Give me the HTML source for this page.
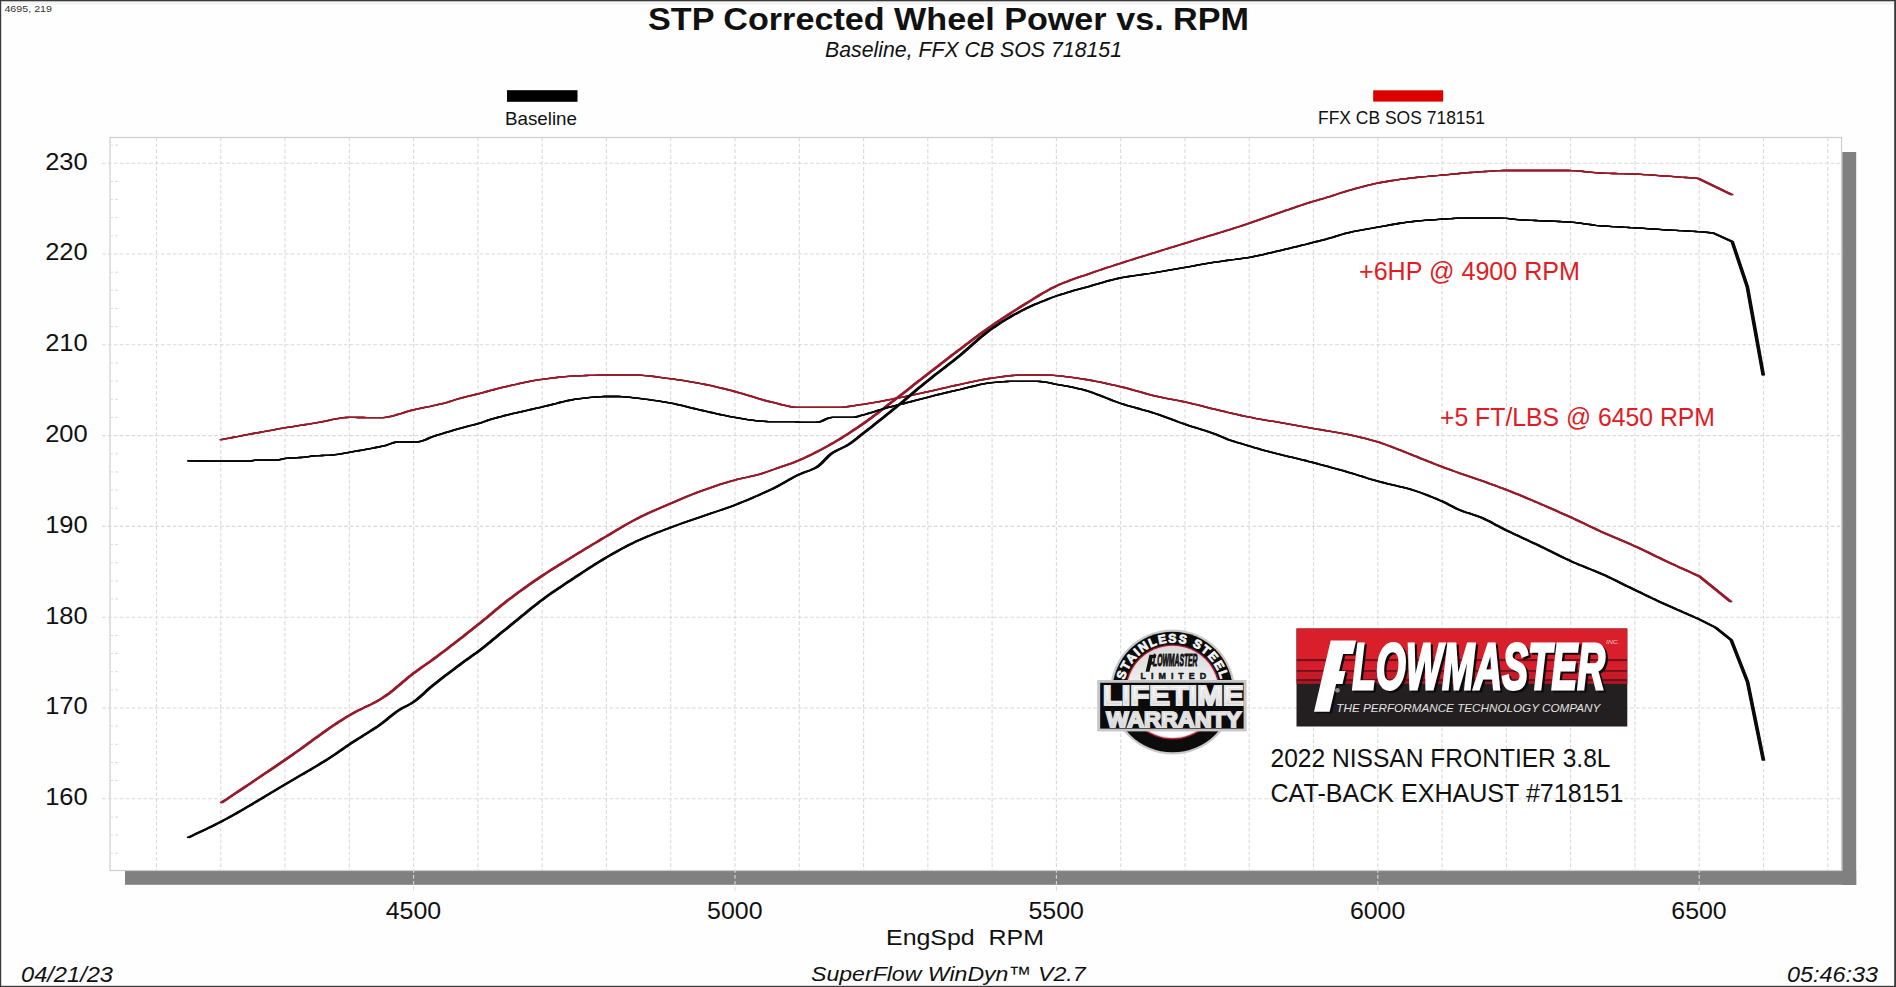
<!DOCTYPE html>
<html><head><meta charset="utf-8"><title>STP Corrected Wheel Power vs. RPM</title>
<style>html,body{margin:0;padding:0;background:#fff;overflow:hidden}svg{display:block}text{font-family:"Liberation Sans",sans-serif}</style></head><body>
<svg width="1896" height="987" viewBox="0 0 1896 987">
<rect x="0" y="0" width="1896" height="987" fill="#fefefe"/>
<rect x="1" y="1.5" width="1893" height="3.5" fill="#f5f5f5"/>
<rect x="0" y="0" width="1896" height="1.3" fill="#3a3a3a"/>
<rect x="0" y="0" width="1.2" height="987" fill="#3a3a3a"/>
<rect x="0" y="985.8" width="1896" height="1.2" fill="#3a3a3a"/>
<rect x="1894.2" y="0" width="1.8" height="987" fill="#3a3a3a"/>
<rect x="1842.3" y="152" width="13.9" height="733" fill="#808080"/>
<rect x="125" y="871" width="1731.2" height="13.8" fill="#808080"/>
<rect x="110.0" y="137.5" width="1731.5" height="733.0" fill="#ffffff" stroke="#cdcdcd" stroke-width="1.2"/>
<path d="M156.5 137.5 V870.5 M220.8 137.5 V870.5 M285.0 137.5 V870.5 M349.3 137.5 V870.5 M413.6 137.5 V893.0 M477.9 137.5 V870.5 M542.2 137.5 V870.5 M606.4 137.5 V870.5 M670.7 137.5 V870.5 M735.0 137.5 V893.0 M799.3 137.5 V870.5 M863.6 137.5 V870.5 M927.8 137.5 V870.5 M992.1 137.5 V870.5 M1056.4 137.5 V893.0 M1120.7 137.5 V870.5 M1185.0 137.5 V870.5 M1249.2 137.5 V870.5 M1313.5 137.5 V870.5 M1377.8 137.5 V893.0 M1442.1 137.5 V870.5 M1506.4 137.5 V870.5 M1570.6 137.5 V870.5 M1634.9 137.5 V870.5 M1699.2 137.5 V893.0 M1763.5 137.5 V870.5 M1827.8 137.5 V870.5 M102.0 798.8 H1841.5 M102.0 708.0 H1841.5 M102.0 617.2 H1841.5 M102.0 526.4 H1841.5 M102.0 435.6 H1841.5 M102.0 344.8 H1841.5 M102.0 254.0 H1841.5 M102.0 163.2 H1841.5" fill="none" stroke="#dadada" stroke-width="1.1" stroke-dasharray="3.7 2.2"/>
<path d="M110.0 853.3 H118.0 M110.0 835.1 H118.0 M110.0 817.0 H118.0 M110.0 780.6 H118.0 M110.0 762.5 H118.0 M110.0 744.3 H118.0 M110.0 726.2 H118.0 M110.0 689.8 H118.0 M110.0 671.7 H118.0 M110.0 653.5 H118.0 M110.0 635.4 H118.0 M110.0 599.0 H118.0 M110.0 580.9 H118.0 M110.0 562.7 H118.0 M110.0 544.6 H118.0 M110.0 508.2 H118.0 M110.0 490.1 H118.0 M110.0 471.9 H118.0 M110.0 453.8 H118.0 M110.0 417.4 H118.0 M110.0 399.3 H118.0 M110.0 381.1 H118.0 M110.0 363.0 H118.0 M110.0 326.6 H118.0 M110.0 308.5 H118.0 M110.0 290.3 H118.0 M110.0 272.2 H118.0 M110.0 235.8 H118.0 M110.0 217.7 H118.0 M110.0 199.5 H118.0 M110.0 181.4 H118.0 M110.0 145.0 H118.0" fill="none" stroke="#dcdcdc" stroke-width="1" stroke-dasharray="3 2"/>
<g fill="none" stroke="#971c2b" stroke-width="1.3" stroke-linejoin="round" stroke-linecap="butt">
<path id="rt" d="M220.6 439.8 L223.6 439.2 L226.5 438.7 L229.5 438.1 L232.5 437.5 L235.4 436.9 L238.4 436.4 L241.4 435.8 L244.4 435.2 L247.3 434.7 L250.3 434.1 L253.3 433.5 L256.2 433.0 L259.2 432.5 L262.1 431.9 L265.1 431.4 L268.1 430.8 L271.0 430.3 L274.0 429.8 L276.9 429.2 L279.9 428.7 L282.8 428.2 L285.8 427.7 L288.7 427.2 L291.5 426.8 L294.4 426.3 L297.2 425.8 L300.1 425.4 L302.9 425.0 L305.8 424.5 L308.6 424.1 L311.5 423.6 L314.3 423.2 L317.2 422.7 L320.1 422.2 L323.0 421.6 L326.0 421.0 L328.9 420.3 L331.8 419.7 L334.7 419.1 L337.6 418.6 L340.5 418.1 L343.5 417.7 L346.4 417.5 L349.3 417.4 L352.2 417.4 L355.0 417.4 L357.9 417.5 L360.8 417.5 L363.6 417.5 L366.5 417.6 L369.3 417.6 L372.2 417.6 L375.1 417.7 L377.9 417.7 L380.8 417.7 L383.8 417.6 L386.8 417.2 L389.8 416.7 L392.8 416.0 L395.8 415.1 L398.7 414.2 L401.7 413.3 L404.7 412.3 L407.7 411.4 L410.7 410.5 L413.7 409.8 L416.5 409.2 L419.3 408.6 L422.0 408.0 L424.8 407.4 L427.6 406.8 L430.4 406.3 L433.2 405.7 L436.0 405.1 L438.7 404.4 L441.5 403.8 L444.3 403.1 L447.2 402.3 L450.2 401.4 L453.1 400.5 L456.1 399.5 L459.1 398.6 L462.0 397.8 L464.7 397.1 L467.4 396.4 L470.1 395.8 L472.7 395.1 L475.4 394.5 L478.1 393.8 L481.0 393.1 L483.9 392.3 L486.9 391.5 L489.8 390.7 L492.7 390.0 L495.6 389.2 L498.5 388.4 L501.4 387.7 L504.4 387.0 L507.3 386.3 L510.2 385.6 L513.1 384.9 L516.1 384.3 L519.0 383.6 L521.9 383.0 L524.8 382.4 L527.8 381.8 L530.7 381.2 L533.6 380.7 L536.5 380.2 L539.5 379.7 L542.4 379.3 L545.3 378.9 L548.2 378.6 L551.0 378.2 L553.9 377.9 L556.8 377.5 L559.7 377.2 L562.6 376.9 L565.5 376.7 L568.4 376.4 L571.2 376.2 L574.1 376.0 L577.0 375.9 L580.0 375.8 L583.0 375.7 L585.9 375.5 L588.9 375.4 L591.9 375.3 L594.9 375.3 L597.9 375.2 L600.8 375.1 L603.8 375.1 L606.8 375.1 L609.5 375.1 L612.2 375.1 L614.9 375.1 L617.6 375.1 L620.3 375.1 L623.1 375.1 L625.8 375.1 L628.5 375.1 L631.2 375.1 L633.9 375.1 L636.8 375.1 L639.6 375.2 L642.5 375.4 L645.3 375.6 L648.2 375.9 L651.0 376.2 L653.9 376.5 L656.7 376.9 L659.6 377.3 L662.4 377.7 L665.3 378.1 L668.1 378.4 L671.0 378.8 L673.9 379.2 L676.7 379.6 L679.6 380.0 L682.5 380.4 L685.3 380.9 L688.2 381.3 L691.0 381.8 L693.9 382.3 L696.8 382.8 L699.6 383.4 L702.5 383.9 L705.4 384.5 L708.4 385.1 L711.3 385.7 L714.2 386.4 L717.1 387.1 L720.1 387.8 L723.0 388.5 L725.9 389.2 L728.8 390.0 L731.8 390.7 L734.7 391.5 L737.6 392.3 L740.4 393.1 L743.3 393.9 L746.2 394.8 L749.0 395.7 L751.9 396.5 L754.8 397.4 L757.7 398.3 L760.5 399.2 L763.4 400.0 L766.3 400.8 L769.1 401.5 L772.0 402.2 L775.0 402.9 L778.0 403.7 L780.9 404.5 L783.9 405.2 L786.9 405.9 L789.9 406.5 L792.8 407.0 L795.8 407.3 L798.8 407.4 L801.7 407.4 L804.7 407.4 L807.6 407.4 L810.5 407.4 L813.5 407.4 L816.4 407.4 L819.3 407.4 L822.2 407.4 L825.2 407.4 L828.1 407.4 L831.0 407.4 L834.0 407.4 L836.9 407.4 L839.8 407.3 L842.8 407.2 L845.7 406.9 L848.6 406.5 L851.6 406.1 L854.5 405.7 L857.4 405.2 L860.4 404.7 L863.3 404.3 L866.2 403.9 L869.1 403.4 L872.1 402.9 L875.0 402.4 L877.9 401.9 L880.8 401.3 L883.7 400.8 L886.6 400.2 L889.6 399.6 L892.5 399.1 L895.4 398.5 L898.3 397.9 L901.2 397.3 L904.2 396.8 L907.1 396.2 L910.0 395.6 L912.9 394.9 L915.8 394.3 L918.7 393.7 L921.7 393.1 L924.6 392.4 L927.5 391.8 L930.3 391.2 L933.0 390.6 L935.8 389.9 L938.5 389.3 L941.3 388.7 L944.0 388.0 L946.8 387.4 L949.6 386.7 L952.3 386.1 L955.1 385.5 L957.8 384.9 L960.6 384.3 L963.5 383.7 L966.3 383.1 L969.2 382.4 L972.1 381.8 L974.9 381.2 L977.8 380.6 L980.6 380.0 L983.5 379.5 L986.4 379.0 L989.2 378.5 L992.1 378.1 L995.0 377.7 L997.8 377.3 L1000.7 376.9 L1003.6 376.5 L1006.5 376.1 L1009.3 375.8 L1012.2 375.5 L1015.1 375.3 L1017.9 375.1 L1020.8 375.1 L1023.5 375.1 L1026.3 375.1 L1029.0 375.1 L1031.7 375.1 L1034.5 375.1 L1037.2 375.1 L1040.0 375.1 L1042.7 375.1 L1045.4 375.1 L1048.2 375.1 L1050.9 375.1 L1053.7 375.3 L1056.5 375.6 L1059.4 375.9 L1062.4 376.2 L1065.3 376.6 L1068.3 376.9 L1071.2 377.3 L1074.2 377.7 L1077.1 378.1 L1080.1 378.6 L1083.0 379.0 L1085.9 379.5 L1088.8 380.0 L1091.8 380.5 L1094.7 381.1 L1097.6 381.6 L1100.5 382.2 L1103.5 382.8 L1106.4 383.5 L1109.3 384.1 L1112.2 384.8 L1115.2 385.4 L1118.1 386.1 L1121.0 386.8 L1123.9 387.5 L1126.7 388.2 L1129.6 389.0 L1132.4 389.8 L1135.3 390.6 L1138.2 391.4 L1141.0 392.2 L1143.9 393.0 L1146.7 393.8 L1149.6 394.6 L1152.4 395.3 L1155.3 396.0 L1158.0 396.6 L1160.8 397.2 L1163.5 397.8 L1166.2 398.3 L1169.0 398.8 L1171.7 399.3 L1174.5 399.9 L1177.2 400.4 L1179.9 400.9 L1182.7 401.5 L1185.4 402.1 L1188.2 402.7 L1191.0 403.4 L1193.9 404.1 L1196.7 404.7 L1199.5 405.4 L1202.3 406.1 L1205.2 406.8 L1208.0 407.6 L1210.8 408.3 L1213.6 409.0 L1216.5 409.7 L1219.3 410.3 L1222.1 411.0 L1224.9 411.6 L1227.6 412.3 L1230.4 412.9 L1233.1 413.6 L1235.9 414.2 L1238.7 414.8 L1241.4 415.5 L1244.2 416.1 L1246.9 416.6 L1249.7 417.2 L1252.5 417.7 L1255.3 418.3 L1258.2 418.8 L1261.0 419.3 L1263.8 419.8 L1266.6 420.3 L1269.4 420.8 L1272.2 421.2 L1275.1 421.7 L1277.9 422.2 L1280.7 422.7 L1283.5 423.2 L1286.3 423.7 L1289.0 424.2 L1291.8 424.7 L1294.6 425.2 L1297.4 425.7 L1300.2 426.2 L1303.0 426.6 L1305.8 427.1 L1308.5 427.6 L1311.3 428.1 L1314.1 428.6 L1316.9 429.1 L1319.7 429.5 L1322.5 430.0 L1325.3 430.5 L1328.1 430.9 L1330.8 431.4 L1333.6 431.8 L1336.4 432.3 L1339.2 432.8 L1342.0 433.3 L1344.8 433.8 L1347.6 434.4 L1350.3 435.0 L1353.1 435.6 L1355.8 436.2 L1358.5 436.8 L1361.3 437.5 L1364.0 438.1 L1366.8 438.8 L1369.5 439.6 L1372.2 440.3 L1375.0 441.1 L1377.7 441.9 L1380.2 442.7 L1382.8 443.6 L1385.3 444.5 L1387.9 445.5 L1390.5 446.4 L1393.0 447.4 L1395.9 448.5 L1398.7 449.6 L1401.6 450.7 L1404.5 451.8 L1407.4 453.0 L1410.2 454.1 L1413.1 455.3 L1416.0 456.4 L1418.8 457.6 L1421.7 458.8 L1424.6 459.9 L1427.4 461.1 L1430.3 462.2 L1433.2 463.4 L1436.1 464.5 L1438.9 465.6 L1441.8 466.7 L1444.7 467.8 L1447.7 468.9 L1450.6 469.9 L1453.5 471.0 L1456.5 472.0 L1459.4 473.1 L1462.4 474.1 L1465.3 475.1 L1468.2 476.1 L1471.2 477.1 L1474.1 478.1 L1477.0 479.2 L1480.0 480.2 L1482.9 481.2 L1485.8 482.2 L1488.8 483.3 L1491.7 484.3 L1494.7 485.4 L1497.6 486.5 L1500.5 487.6 L1503.5 488.7 L1506.4 489.8 L1509.3 490.9 L1512.2 492.1 L1515.2 493.3 L1518.1 494.4 L1521.0 495.6 L1523.9 496.8 L1526.8 498.1 L1529.7 499.3 L1532.7 500.5 L1535.6 501.8 L1538.5 503.0 L1541.4 504.3 L1544.3 505.5 L1547.3 506.8 L1550.2 508.1 L1553.1 509.4 L1556.0 510.7 L1558.9 512.0 L1561.8 513.3 L1564.8 514.6 L1567.7 515.9 L1570.6 517.2 L1573.5 518.5 L1576.4 519.9 L1579.4 521.3 L1582.3 522.7 L1585.2 524.0 L1588.1 525.5 L1591.0 526.9 L1593.9 528.2 L1596.9 529.6 L1599.8 531.0 L1602.7 532.3 L1605.7 533.6 L1608.6 534.9 L1611.6 536.2 L1614.5 537.4 L1617.5 538.7 L1620.4 539.9 L1623.4 541.2 L1626.3 542.4 L1629.3 543.7 L1632.2 545.0 L1635.2 546.3 L1638.2 547.7 L1641.2 549.1 L1644.1 550.5 L1647.1 551.9 L1650.1 553.3 L1653.1 554.8 L1656.0 556.3 L1659.0 557.7 L1662.0 559.2 L1665.0 560.6 L1667.9 562.0 L1670.9 563.4 L1673.8 564.7 L1676.6 566.0 L1679.5 567.4 L1682.4 568.7 L1685.2 569.9 L1688.1 571.2 L1691.0 572.5 L1693.9 573.8 L1696.7 575.1 L1699.6 576.4 L1731.1 602.1"/>
<use href="#rt" x="-1.2"/>
<use href="#rt" x="-0.6"/>
<use href="#rt" x="0.6"/>
<use href="#rt" x="1.2"/>
</g>
<g fill="none" stroke="#971c2b" stroke-width="1.3" stroke-linejoin="round" stroke-linecap="butt">
<path id="rp" d="M221.2 802.9 L224.1 800.9 L227.1 799.0 L230.0 797.0 L232.9 795.0 L235.9 793.0 L238.8 791.1 L241.8 789.1 L244.7 787.1 L247.6 785.2 L250.6 783.2 L253.5 781.2 L256.4 779.3 L259.4 777.3 L262.3 775.3 L265.2 773.3 L268.2 771.4 L271.1 769.4 L274.1 767.4 L277.0 765.4 L279.9 763.4 L282.9 761.4 L285.8 759.4 L288.7 757.4 L291.6 755.4 L294.5 753.3 L297.4 751.3 L300.3 749.2 L303.2 747.1 L306.1 745.0 L309.0 742.9 L311.9 740.8 L314.8 738.6 L317.7 736.6 L320.6 734.5 L323.5 732.4 L326.4 730.4 L329.3 728.3 L332.2 726.3 L335.1 724.4 L338.0 722.4 L340.9 720.6 L343.8 718.7 L346.7 716.9 L349.6 715.2 L352.4 713.6 L355.1 712.1 L357.9 710.7 L360.6 709.4 L363.4 708.0 L366.1 706.7 L368.9 705.3 L371.7 704.0 L374.4 702.6 L377.2 701.1 L379.9 699.5 L382.7 697.8 L385.5 695.9 L388.4 693.9 L391.2 691.7 L394.0 689.4 L396.8 687.1 L399.7 684.7 L402.5 682.3 L405.3 679.9 L408.1 677.6 L411.0 675.3 L413.8 673.1 L416.7 671.0 L419.6 668.9 L422.5 666.8 L425.4 664.8 L428.3 662.7 L431.2 660.7 L434.1 658.6 L437.0 656.5 L439.9 654.3 L442.9 652.1 L445.8 649.9 L448.8 647.6 L451.7 645.3 L454.7 643.1 L457.6 640.8 L460.5 638.5 L463.5 636.2 L466.4 633.8 L469.4 631.5 L472.3 629.2 L475.3 626.8 L478.2 624.5 L481.1 622.2 L484.0 619.8 L487.0 617.4 L489.9 614.9 L492.8 612.5 L495.7 610.1 L498.6 607.7 L501.5 605.3 L504.5 602.9 L507.4 600.6 L510.3 598.4 L513.3 596.2 L516.2 594.0 L519.2 591.8 L522.1 589.7 L525.1 587.6 L528.0 585.5 L531.0 583.4 L533.9 581.4 L536.9 579.4 L539.8 577.4 L542.8 575.4 L545.6 573.5 L548.4 571.7 L551.2 569.9 L554.0 568.1 L556.8 566.4 L559.6 564.6 L562.5 562.9 L565.3 561.2 L568.1 559.5 L570.9 557.7 L573.7 556.0 L576.5 554.3 L579.2 552.6 L582.0 551.0 L584.7 549.3 L587.4 547.6 L590.2 546.0 L592.9 544.3 L595.7 542.7 L598.4 541.1 L601.1 539.4 L603.9 537.8 L606.6 536.2 L609.3 534.6 L612.1 532.9 L614.8 531.3 L617.5 529.6 L620.3 528.0 L623.0 526.4 L625.8 524.8 L628.5 523.2 L631.2 521.7 L634.0 520.2 L636.7 518.8 L639.6 517.3 L642.5 515.9 L645.4 514.6 L648.3 513.2 L651.2 511.9 L654.0 510.6 L656.9 509.3 L659.8 508.1 L662.7 506.8 L665.6 505.6 L668.5 504.3 L671.4 503.1 L674.4 501.8 L677.3 500.6 L680.2 499.3 L683.2 498.1 L686.1 496.9 L689.1 495.7 L692.0 494.5 L695.0 493.3 L697.9 492.2 L700.9 491.1 L703.7 490.1 L706.6 489.1 L709.4 488.1 L712.3 487.1 L715.1 486.1 L718.0 485.2 L720.8 484.2 L723.6 483.3 L726.5 482.5 L729.3 481.6 L732.2 480.8 L735.0 480.0 L737.9 479.2 L740.8 478.6 L743.7 477.9 L746.6 477.3 L749.5 476.6 L752.4 476.0 L755.3 475.3 L758.2 474.6 L761.1 473.8 L763.8 472.9 L766.5 472.0 L769.3 471.0 L772.0 470.0 L775.0 469.0 L778.0 467.9 L780.9 466.9 L783.9 465.9 L786.9 464.9 L789.9 463.8 L792.8 462.8 L795.8 461.6 L798.8 460.4 L801.6 459.2 L804.3 458.0 L807.1 456.7 L809.8 455.4 L812.6 454.0 L815.3 452.6 L818.1 451.2 L820.9 449.7 L823.6 448.2 L826.4 446.7 L829.1 445.2 L831.9 443.6 L834.8 442.0 L837.6 440.3 L840.5 438.6 L843.3 436.8 L846.2 435.0 L849.0 433.2 L851.9 431.3 L854.7 429.4 L857.6 427.5 L860.4 425.6 L863.3 423.6 L866.2 421.6 L869.1 419.4 L872.1 417.3 L875.0 415.1 L877.9 412.9 L880.8 410.6 L883.7 408.4 L886.6 406.1 L889.6 403.8 L892.5 401.6 L895.4 399.3 L898.3 397.0 L901.2 394.8 L904.2 392.5 L907.1 390.2 L910.0 387.9 L912.9 385.6 L915.8 383.3 L918.7 381.0 L921.7 378.8 L924.6 376.5 L927.5 374.2 L930.2 372.1 L933.0 369.9 L935.8 367.8 L938.5 365.7 L941.2 363.5 L944.0 361.4 L946.8 359.3 L949.5 357.2 L952.2 355.1 L955.0 353.0 L957.9 350.8 L960.7 348.7 L963.6 346.5 L966.4 344.3 L969.3 342.2 L972.1 340.0 L975.0 337.9 L977.8 335.8 L980.7 333.6 L983.5 331.6 L986.4 329.5 L989.2 327.5 L992.1 325.5 L994.9 323.5 L997.8 321.6 L1000.6 319.7 L1003.5 317.8 L1006.3 316.0 L1009.2 314.1 L1012.0 312.3 L1014.8 310.5 L1017.7 308.7 L1020.5 306.9 L1023.4 305.1 L1026.2 303.4 L1028.9 301.7 L1031.7 300.0 L1034.4 298.3 L1037.1 296.6 L1039.9 294.9 L1042.6 293.3 L1045.4 291.7 L1048.1 290.2 L1050.8 288.7 L1053.6 287.3 L1056.3 286.0 L1059.1 284.7 L1062.0 283.5 L1064.8 282.4 L1067.7 281.3 L1070.5 280.2 L1073.3 279.2 L1076.2 278.2 L1079.0 277.2 L1081.9 276.2 L1084.7 275.3 L1087.6 274.3 L1090.4 273.3 L1093.1 272.3 L1095.9 271.4 L1098.6 270.5 L1101.3 269.6 L1104.1 268.6 L1106.8 267.7 L1109.6 266.8 L1112.3 266.0 L1115.0 265.1 L1117.8 264.2 L1120.5 263.3 L1123.4 262.4 L1126.4 261.4 L1129.3 260.5 L1132.3 259.6 L1135.2 258.6 L1138.1 257.7 L1141.1 256.8 L1144.0 255.9 L1147.0 255.0 L1149.9 254.1 L1152.8 253.2 L1155.8 252.3 L1158.7 251.3 L1161.7 250.4 L1164.6 249.5 L1167.6 248.6 L1170.5 247.7 L1173.4 246.8 L1176.4 245.9 L1179.3 245.0 L1182.3 244.1 L1185.2 243.2 L1188.1 242.3 L1191.1 241.4 L1194.0 240.5 L1196.9 239.6 L1199.8 238.7 L1202.8 237.8 L1205.7 236.9 L1208.6 236.0 L1211.5 235.2 L1214.5 234.3 L1217.4 233.4 L1220.3 232.5 L1223.3 231.6 L1226.2 230.7 L1229.1 229.8 L1232.0 228.9 L1235.0 227.9 L1237.9 227.0 L1240.8 226.1 L1243.7 225.1 L1246.7 224.2 L1249.6 223.2 L1252.5 222.2 L1255.3 221.2 L1258.2 220.2 L1261.1 219.2 L1263.9 218.2 L1266.8 217.2 L1269.6 216.1 L1272.5 215.1 L1275.4 214.1 L1278.2 213.1 L1281.1 212.1 L1283.9 211.2 L1286.6 210.2 L1289.4 209.3 L1292.1 208.3 L1294.9 207.4 L1297.7 206.4 L1300.4 205.5 L1303.2 204.6 L1305.9 203.7 L1308.7 202.8 L1311.4 201.9 L1314.2 201.1 L1316.9 200.3 L1319.6 199.5 L1322.3 198.8 L1325.0 198.0 L1327.8 197.1 L1330.6 196.3 L1333.4 195.4 L1336.2 194.5 L1338.9 193.5 L1341.7 192.6 L1344.5 191.8 L1347.3 190.9 L1350.1 190.1 L1352.9 189.3 L1355.6 188.5 L1358.4 187.8 L1361.2 187.0 L1363.9 186.3 L1366.7 185.6 L1369.5 184.9 L1372.3 184.3 L1375.0 183.7 L1377.8 183.1 L1380.8 182.5 L1383.7 182.0 L1386.7 181.5 L1389.6 181.0 L1392.6 180.5 L1395.5 180.1 L1398.5 179.6 L1401.4 179.2 L1404.4 178.8 L1407.3 178.5 L1410.3 178.1 L1413.2 177.8 L1416.0 177.5 L1418.9 177.2 L1421.8 176.9 L1424.6 176.6 L1427.5 176.4 L1430.3 176.1 L1433.2 175.9 L1436.1 175.6 L1438.9 175.4 L1441.8 175.1 L1444.7 174.8 L1447.6 174.6 L1450.5 174.3 L1453.4 174.0 L1456.3 173.8 L1459.2 173.5 L1462.0 173.2 L1464.9 173.0 L1467.8 172.7 L1470.7 172.5 L1473.6 172.3 L1476.5 172.1 L1479.5 171.9 L1482.4 171.7 L1485.4 171.5 L1488.4 171.3 L1491.3 171.1 L1494.3 170.9 L1497.3 170.7 L1500.3 170.6 L1503.2 170.5 L1506.2 170.5 L1509.2 170.5 L1512.2 170.5 L1515.1 170.5 L1518.1 170.5 L1521.1 170.5 L1524.1 170.5 L1527.1 170.5 L1530.0 170.5 L1533.0 170.5 L1536.0 170.5 L1539.0 170.5 L1542.0 170.5 L1545.0 170.5 L1547.9 170.5 L1550.9 170.5 L1553.9 170.5 L1556.9 170.5 L1559.9 170.5 L1562.8 170.5 L1565.8 170.5 L1568.8 170.5 L1571.7 170.6 L1574.6 170.7 L1577.6 170.9 L1580.5 171.2 L1583.4 171.5 L1586.3 171.8 L1589.2 172.1 L1592.1 172.4 L1595.1 172.7 L1598.0 172.9 L1600.9 173.1 L1603.7 173.2 L1606.6 173.3 L1609.4 173.4 L1612.3 173.5 L1615.1 173.5 L1618.0 173.6 L1620.8 173.7 L1623.6 173.7 L1626.5 173.8 L1629.3 173.9 L1632.2 174.0 L1635.0 174.1 L1638.0 174.2 L1641.0 174.4 L1644.0 174.6 L1647.0 174.7 L1650.0 174.9 L1653.0 175.1 L1656.0 175.3 L1659.0 175.6 L1662.0 175.8 L1665.0 176.0 L1668.0 176.2 L1671.0 176.4 L1674.0 176.6 L1677.0 176.8 L1680.0 177.1 L1683.0 177.3 L1686.0 177.5 L1689.0 177.7 L1692.0 178.0 L1695.0 178.2 L1698.0 178.4 L1732.2 194.8"/>
<use href="#rp" x="-1.2"/>
<use href="#rp" x="-0.6"/>
<use href="#rp" x="0.6"/>
<use href="#rp" x="1.2"/>
</g>
<g fill="none" stroke="#0a0a0a" stroke-width="1.3" stroke-linejoin="round" stroke-linecap="butt">
<path id="bt" d="M188.1 460.8 L190.9 460.8 L193.7 460.9 L196.5 460.9 L199.3 461.0 L202.1 461.0 L204.8 461.0 L207.6 461.1 L210.4 461.1 L213.2 461.2 L216.0 461.2 L218.8 461.2 L221.6 461.2 L224.5 461.2 L227.3 461.2 L230.2 461.2 L233.1 461.2 L235.9 461.2 L238.8 461.2 L241.7 461.2 L244.6 461.2 L247.4 461.2 L250.3 461.2 L252.0 460.8 L253.7 460.3 L256.6 460.2 L259.6 460.2 L262.5 460.2 L265.4 460.1 L268.3 460.1 L271.2 460.1 L274.2 460.1 L277.1 460.0 L280.0 459.6 L282.9 458.8 L285.8 458.3 L288.7 458.1 L291.7 457.9 L294.6 457.8 L297.6 457.7 L300.5 457.5 L303.3 457.3 L306.1 456.9 L308.9 456.6 L311.6 456.2 L314.4 455.9 L317.2 455.7 L319.7 455.6 L322.2 455.5 L324.8 455.4 L327.3 455.3 L329.8 455.2 L332.3 455.0 L335.1 454.7 L338.0 454.3 L340.8 453.9 L343.6 453.3 L346.5 452.8 L349.3 452.3 L351.9 451.9 L354.5 451.4 L357.1 451.0 L359.6 450.5 L362.2 450.1 L364.8 449.6 L367.4 449.1 L370.2 448.6 L373.0 448.1 L375.8 447.5 L378.5 447.0 L381.3 446.4 L384.1 445.8 L386.9 445.0 L389.8 444.0 L392.6 443.0 L395.5 442.2 L398.3 441.9 L401.2 441.9 L404.2 442.0 L407.1 442.0 L410.0 442.0 L413.0 442.1 L415.9 442.1 L418.5 441.9 L421.2 441.2 L423.8 440.3 L426.4 439.3 L429.0 438.1 L431.7 437.0 L434.3 436.1 L437.1 435.2 L439.8 434.4 L442.6 433.5 L445.4 432.7 L448.1 431.8 L450.9 431.0 L453.7 430.2 L456.5 429.4 L459.2 428.6 L462.0 427.8 L464.7 427.1 L467.4 426.4 L470.1 425.7 L472.7 425.1 L475.4 424.3 L478.1 423.6 L480.7 422.8 L483.2 422.0 L485.8 421.1 L488.3 420.2 L490.8 419.4 L493.4 418.6 L496.3 417.8 L499.2 417.0 L502.0 416.3 L504.9 415.5 L507.8 414.8 L510.7 414.1 L513.6 413.4 L516.5 412.8 L519.3 412.1 L522.2 411.5 L525.1 410.8 L528.0 410.2 L530.9 409.5 L533.8 408.9 L536.6 408.2 L539.5 407.6 L542.4 406.9 L545.3 406.2 L548.2 405.5 L551.0 404.8 L553.9 404.0 L556.8 403.3 L559.7 402.5 L562.6 401.8 L565.5 401.2 L568.4 400.5 L571.2 400.0 L574.1 399.4 L577.0 399.0 L579.8 398.6 L582.6 398.3 L585.4 398.0 L588.2 397.7 L591.0 397.4 L593.8 397.2 L596.4 397.0 L599.0 396.8 L601.6 396.7 L604.2 396.5 L606.8 396.5 L609.2 396.5 L611.6 396.5 L614.1 396.5 L616.5 396.5 L618.9 396.5 L621.7 396.6 L624.5 396.8 L627.2 397.0 L630.0 397.3 L632.8 397.7 L635.6 398.0 L638.6 398.3 L641.5 398.7 L644.5 399.1 L647.4 399.4 L650.4 399.9 L653.3 400.3 L656.2 400.7 L659.2 401.2 L662.1 401.7 L665.1 402.2 L668.0 402.7 L671.0 403.2 L673.9 403.7 L676.7 404.3 L679.6 405.0 L682.5 405.6 L685.3 406.3 L688.2 407.0 L691.0 407.8 L693.9 408.5 L696.8 409.2 L699.6 409.8 L702.5 410.5 L705.4 411.2 L708.4 411.8 L711.3 412.5 L714.2 413.2 L717.1 413.8 L720.1 414.5 L723.0 415.1 L725.9 415.7 L728.8 416.3 L731.8 416.9 L734.7 417.4 L737.6 417.9 L740.5 418.4 L743.5 418.9 L746.4 419.4 L749.3 419.8 L752.2 420.2 L755.2 420.6 L758.1 420.9 L761.0 421.1 L764.0 421.3 L767.0 421.5 L770.0 421.6 L773.0 421.7 L775.8 421.7 L778.5 421.7 L781.3 421.7 L784.0 421.6 L786.8 421.6 L789.6 421.6 L792.3 421.6 L795.1 421.6 L797.6 422.0 L800.1 422.4 L802.9 422.4 L805.7 422.4 L808.5 422.4 L811.2 422.4 L814.0 422.4 L816.8 422.4 L819.3 422.0 L821.8 421.1 L824.3 419.9 L826.9 418.7 L829.4 417.8 L831.9 417.4 L834.8 417.4 L837.6 417.4 L840.5 417.4 L843.3 417.4 L846.2 417.4 L849.0 417.4 L851.9 417.4 L854.8 417.1 L857.6 416.5 L860.4 415.7 L863.3 414.9 L866.3 414.1 L869.2 413.2 L872.2 412.3 L875.2 411.4 L878.2 410.4 L881.1 409.5 L884.1 408.6 L887.1 407.7 L889.9 407.0 L892.7 406.3 L895.5 405.6 L898.2 404.9 L901.0 404.2 L903.8 403.5 L906.8 402.7 L909.7 402.0 L912.7 401.2 L915.6 400.4 L918.6 399.6 L921.6 398.8 L924.5 398.1 L927.5 397.3 L930.3 396.6 L933.0 395.9 L935.8 395.2 L938.5 394.5 L941.3 393.9 L944.0 393.2 L946.8 392.5 L949.6 391.9 L952.3 391.2 L955.1 390.6 L957.8 389.9 L960.6 389.3 L963.5 388.6 L966.3 387.9 L969.2 387.2 L972.1 386.5 L974.9 385.8 L977.8 385.1 L980.6 384.4 L983.5 383.8 L986.4 383.3 L989.2 382.9 L992.1 382.6 L995.0 382.3 L997.9 382.1 L1000.8 381.9 L1003.8 381.7 L1006.7 381.5 L1009.6 381.4 L1012.5 381.4 L1015.3 381.4 L1018.1 381.4 L1020.9 381.4 L1023.7 381.4 L1026.4 381.4 L1029.2 381.4 L1032.0 381.4 L1034.8 381.4 L1037.6 381.4 L1040.3 381.5 L1043.0 381.8 L1045.7 382.2 L1048.4 382.7 L1051.1 383.2 L1053.8 383.8 L1056.5 384.3 L1059.4 384.8 L1062.4 385.3 L1065.3 385.9 L1068.3 386.4 L1071.2 387.0 L1074.2 387.6 L1077.1 388.3 L1080.1 389.0 L1083.0 389.7 L1085.9 390.5 L1088.8 391.4 L1091.8 392.4 L1094.7 393.5 L1097.6 394.6 L1100.5 395.7 L1103.5 396.9 L1106.4 398.0 L1109.3 399.2 L1112.2 400.4 L1115.2 401.5 L1118.1 402.5 L1121.0 403.5 L1123.9 404.4 L1126.7 405.3 L1129.6 406.1 L1132.4 406.9 L1135.3 407.7 L1138.2 408.5 L1141.0 409.3 L1143.9 410.1 L1146.7 410.9 L1149.6 411.7 L1152.4 412.6 L1155.3 413.5 L1158.0 414.4 L1160.8 415.4 L1163.5 416.3 L1166.2 417.3 L1169.0 418.4 L1171.7 419.4 L1174.5 420.4 L1177.2 421.5 L1179.9 422.5 L1182.7 423.4 L1185.4 424.4 L1188.2 425.4 L1191.1 426.3 L1193.9 427.2 L1196.8 428.0 L1199.6 428.9 L1202.4 429.8 L1205.3 430.7 L1208.1 431.6 L1211.0 432.6 L1213.8 433.6 L1216.6 434.7 L1219.4 435.8 L1222.2 437.0 L1224.9 438.2 L1227.7 439.3 L1230.5 440.3 L1233.2 441.2 L1236.0 442.1 L1238.7 442.9 L1241.5 443.7 L1244.2 444.5 L1247.0 445.3 L1249.7 446.1 L1252.6 447.0 L1255.4 447.8 L1258.3 448.7 L1261.1 449.5 L1264.0 450.3 L1266.9 451.1 L1269.9 451.9 L1272.8 452.6 L1275.8 453.4 L1278.7 454.1 L1281.7 454.8 L1284.6 455.6 L1287.6 456.3 L1290.5 457.0 L1293.5 457.7 L1296.4 458.4 L1299.4 459.1 L1302.3 459.8 L1305.3 460.5 L1308.2 461.3 L1311.2 462.0 L1314.1 462.8 L1316.9 463.5 L1319.7 464.3 L1322.5 465.0 L1325.3 465.8 L1328.1 466.5 L1330.8 467.3 L1333.6 468.1 L1336.4 468.8 L1339.2 469.6 L1342.0 470.4 L1344.8 471.2 L1347.6 472.0 L1350.3 472.8 L1353.1 473.6 L1355.8 474.5 L1358.5 475.4 L1361.3 476.2 L1364.0 477.1 L1366.8 478.0 L1369.5 478.8 L1372.2 479.6 L1375.0 480.4 L1377.7 481.2 L1380.2 481.9 L1382.8 482.5 L1385.3 483.1 L1387.9 483.8 L1390.5 484.4 L1393.0 485.0 L1395.8 485.7 L1398.7 486.3 L1401.5 487.0 L1404.3 487.7 L1407.2 488.4 L1410.0 489.2 L1412.9 490.1 L1415.8 491.0 L1418.7 492.0 L1421.6 493.0 L1424.5 494.1 L1427.3 495.2 L1430.2 496.4 L1433.1 497.5 L1436.0 498.7 L1438.9 500.0 L1441.8 501.2 L1444.4 502.4 L1447.1 503.7 L1449.7 505.1 L1452.3 506.4 L1454.9 507.8 L1457.6 509.1 L1460.2 510.2 L1463.1 511.3 L1465.9 512.3 L1468.8 513.2 L1471.7 514.2 L1474.6 515.1 L1477.4 516.1 L1480.3 517.2 L1483.2 518.4 L1486.1 519.8 L1489.0 521.2 L1491.9 522.7 L1494.8 524.3 L1497.7 525.8 L1500.6 527.4 L1503.5 528.9 L1506.4 530.3 L1509.2 531.7 L1512.1 533.0 L1514.9 534.4 L1517.8 535.7 L1520.6 537.0 L1523.5 538.3 L1526.3 539.6 L1529.1 541.0 L1532.0 542.3 L1534.8 543.6 L1537.7 544.9 L1540.5 546.3 L1543.2 547.6 L1546.0 549.0 L1548.7 550.3 L1551.4 551.7 L1554.2 553.1 L1556.9 554.4 L1559.7 555.8 L1562.4 557.1 L1565.1 558.5 L1567.9 559.7 L1570.6 561.0 L1573.5 562.3 L1576.4 563.5 L1579.4 564.8 L1582.3 565.9 L1585.2 567.1 L1588.1 568.3 L1591.0 569.5 L1593.9 570.7 L1596.9 571.9 L1599.8 573.1 L1602.7 574.4 L1605.7 575.7 L1608.6 577.1 L1611.6 578.5 L1614.5 579.9 L1617.5 581.4 L1620.4 582.8 L1623.4 584.3 L1626.3 585.8 L1629.3 587.2 L1632.2 588.7 L1635.2 590.1 L1637.9 591.4 L1640.6 592.7 L1643.3 594.0 L1646.1 595.3 L1648.8 596.7 L1651.5 598.0 L1654.2 599.2 L1656.9 600.5 L1659.7 601.8 L1662.6 603.1 L1665.4 604.4 L1668.3 605.7 L1671.1 606.9 L1674.0 608.2 L1676.8 609.5 L1679.7 610.7 L1682.5 612.0 L1685.4 613.2 L1688.2 614.5 L1691.1 615.7 L1693.9 617.0 L1696.8 618.2 L1699.6 619.5 L1715.5 627.5 L1731.2 640.1 L1747.6 682.1 L1763.5 760.5"/>
<use href="#bt" x="-1.2"/>
<use href="#bt" x="-0.6"/>
<use href="#bt" x="0.6"/>
<use href="#bt" x="1.2"/>
</g>
<g fill="none" stroke="#0a0a0a" stroke-width="1.3" stroke-linejoin="round" stroke-linecap="butt">
<path id="bp" d="M188.1 837.6 L190.9 836.3 L193.6 835.0 L196.4 833.7 L199.1 832.4 L201.9 831.1 L204.6 829.8 L207.4 828.5 L210.2 827.1 L212.9 825.8 L215.7 824.4 L218.4 823.0 L221.2 821.6 L224.1 820.0 L227.1 818.5 L230.0 816.9 L232.9 815.2 L235.9 813.6 L238.8 811.9 L241.8 810.2 L244.7 808.5 L247.6 806.8 L250.6 805.1 L253.5 803.3 L256.4 801.6 L259.4 799.8 L262.3 798.1 L265.2 796.3 L268.2 794.5 L271.1 792.8 L274.1 791.0 L277.0 789.2 L279.9 787.5 L282.9 785.7 L285.8 784.0 L288.8 782.2 L291.8 780.5 L294.8 778.8 L297.7 777.0 L300.7 775.3 L303.7 773.6 L306.7 771.8 L309.7 770.1 L312.7 768.3 L315.7 766.5 L318.7 764.7 L321.6 762.9 L324.6 761.1 L327.6 759.2 L330.6 757.3 L333.3 755.5 L336.0 753.7 L338.7 751.8 L341.5 749.9 L344.2 748.0 L346.9 746.1 L349.6 744.3 L352.4 742.4 L355.3 740.6 L358.1 738.8 L360.9 737.1 L363.7 735.3 L366.6 733.5 L369.4 731.7 L372.2 729.9 L375.0 728.1 L377.9 726.2 L380.7 724.2 L383.3 722.3 L385.9 720.2 L388.5 718.1 L391.0 716.0 L393.6 713.9 L396.2 712.0 L398.8 710.2 L401.8 708.4 L404.8 706.8 L407.8 705.3 L410.8 703.7 L413.8 701.8 L416.6 699.7 L419.5 697.3 L422.4 694.8 L425.2 692.1 L428.0 689.5 L430.9 687.1 L433.7 684.8 L436.6 682.5 L439.4 680.3 L442.2 678.0 L445.1 675.8 L447.9 673.7 L450.8 671.5 L453.6 669.4 L456.4 667.2 L459.3 665.1 L462.1 663.0 L464.8 661.0 L467.5 659.1 L470.1 657.2 L472.8 655.3 L475.5 653.4 L478.2 651.4 L481.1 649.2 L484.0 646.9 L487.0 644.6 L489.9 642.2 L492.8 639.8 L495.7 637.4 L498.6 635.0 L501.5 632.6 L504.5 630.2 L507.4 627.9 L510.3 625.5 L513.3 623.1 L516.2 620.7 L519.2 618.3 L522.1 615.8 L525.1 613.4 L528.0 611.0 L531.0 608.6 L533.9 606.2 L536.9 603.9 L539.8 601.6 L542.8 599.4 L545.6 597.3 L548.4 595.3 L551.2 593.3 L554.0 591.4 L556.8 589.5 L559.6 587.6 L562.5 585.7 L565.3 583.8 L568.1 581.9 L570.9 580.1 L573.7 578.2 L576.5 576.4 L579.2 574.6 L582.0 572.8 L584.7 571.0 L587.4 569.2 L590.2 567.4 L592.9 565.7 L595.7 563.9 L598.4 562.2 L601.1 560.6 L603.9 558.9 L606.6 557.3 L609.3 555.7 L612.1 554.1 L614.8 552.6 L617.5 551.1 L620.3 549.5 L623.0 548.1 L625.8 546.6 L628.5 545.2 L631.2 543.8 L634.0 542.5 L636.7 541.2 L639.6 539.9 L642.5 538.6 L645.4 537.4 L648.3 536.2 L651.2 535.0 L654.0 533.8 L656.9 532.7 L659.8 531.6 L662.7 530.5 L665.6 529.4 L668.5 528.3 L671.4 527.2 L674.4 526.1 L677.3 525.0 L680.2 524.0 L683.2 522.9 L686.1 521.9 L689.1 520.9 L692.0 519.9 L695.0 518.8 L697.9 517.8 L700.9 516.8 L703.7 515.8 L706.6 514.8 L709.4 513.9 L712.3 512.9 L715.1 512.0 L718.0 511.0 L720.8 510.1 L723.6 509.1 L726.5 508.1 L729.3 507.1 L732.2 506.1 L735.0 505.0 L737.9 503.9 L740.8 502.7 L743.7 501.5 L746.6 500.3 L749.5 499.1 L752.4 497.8 L755.3 496.5 L758.2 495.3 L761.1 494.0 L764.1 492.7 L767.0 491.4 L770.0 490.0 L773.0 488.6 L775.9 487.1 L778.7 485.6 L781.6 484.0 L784.5 482.4 L787.3 480.7 L790.2 479.1 L793.1 477.5 L795.9 476.0 L798.8 474.6 L801.8 473.3 L804.8 472.2 L807.8 471.1 L810.8 470.0 L813.8 468.7 L816.8 467.1 L819.3 465.3 L821.8 463.0 L824.3 460.4 L826.9 457.7 L829.4 455.3 L831.9 453.3 L834.7 451.6 L837.5 450.1 L840.2 448.8 L843.0 447.5 L845.8 446.1 L848.6 444.5 L851.5 442.5 L854.5 440.3 L857.4 438.0 L860.4 435.6 L863.3 433.3 L866.2 431.0 L869.1 428.7 L872.1 426.4 L875.0 424.1 L877.9 421.8 L880.8 419.5 L883.7 417.2 L886.6 414.8 L889.6 412.4 L892.5 410.1 L895.4 407.7 L898.3 405.3 L901.2 402.9 L904.2 400.4 L907.1 398.0 L910.0 395.5 L912.9 393.0 L915.8 390.6 L918.7 388.1 L921.7 385.7 L924.6 383.3 L927.5 380.9 L930.3 378.7 L933.0 376.5 L935.8 374.3 L938.6 372.2 L941.4 370.0 L944.1 367.9 L946.9 365.7 L949.7 363.6 L952.5 361.4 L955.2 359.2 L958.0 357.0 L960.8 354.7 L963.7 352.2 L966.5 349.8 L969.4 347.3 L972.2 344.8 L975.0 342.3 L977.9 339.8 L980.7 337.3 L983.6 335.0 L986.4 332.7 L989.3 330.5 L992.1 328.5 L994.9 326.6 L997.8 324.7 L1000.6 322.8 L1003.5 321.0 L1006.3 319.3 L1009.2 317.6 L1012.0 315.9 L1014.8 314.3 L1017.7 312.8 L1020.5 311.3 L1023.4 309.8 L1026.2 308.4 L1028.9 307.1 L1031.6 305.9 L1034.2 304.7 L1036.9 303.6 L1039.6 302.5 L1042.3 301.4 L1045.1 300.3 L1047.9 299.1 L1050.7 298.0 L1053.5 297.0 L1056.3 296.0 L1059.1 295.1 L1062.0 294.1 L1064.8 293.3 L1067.7 292.4 L1070.5 291.6 L1073.3 290.7 L1076.2 289.9 L1079.0 289.2 L1081.9 288.4 L1084.7 287.6 L1087.6 286.8 L1090.4 286.0 L1093.1 285.2 L1095.9 284.4 L1098.6 283.6 L1101.3 282.8 L1104.1 282.0 L1106.8 281.2 L1109.6 280.5 L1112.3 279.8 L1115.0 279.1 L1117.8 278.5 L1120.5 277.9 L1123.2 277.4 L1126.0 276.9 L1128.7 276.5 L1131.4 276.1 L1134.2 275.7 L1136.9 275.3 L1139.7 274.9 L1142.4 274.5 L1145.1 274.1 L1147.9 273.7 L1150.6 273.3 L1153.5 272.8 L1156.4 272.3 L1159.2 271.9 L1162.1 271.4 L1165.0 270.8 L1167.9 270.3 L1170.8 269.8 L1173.7 269.3 L1176.5 268.8 L1179.4 268.3 L1182.3 267.8 L1185.2 267.3 L1188.2 266.8 L1191.2 266.3 L1194.1 265.8 L1197.1 265.2 L1200.1 264.7 L1203.1 264.2 L1206.0 263.7 L1209.0 263.2 L1212.0 262.7 L1215.0 262.2 L1217.9 261.8 L1220.9 261.3 L1223.8 260.9 L1226.6 260.5 L1229.5 260.1 L1232.4 259.7 L1235.2 259.4 L1238.1 259.0 L1241.0 258.6 L1243.9 258.2 L1246.7 257.8 L1249.6 257.3 L1252.5 256.8 L1255.3 256.2 L1258.2 255.6 L1261.1 255.0 L1263.9 254.4 L1266.8 253.7 L1269.6 253.0 L1272.5 252.3 L1275.4 251.7 L1278.2 251.0 L1281.1 250.3 L1283.9 249.7 L1286.6 249.0 L1289.4 248.3 L1292.1 247.7 L1294.9 247.0 L1297.7 246.3 L1300.4 245.6 L1303.2 244.9 L1305.9 244.3 L1308.7 243.6 L1311.4 242.9 L1314.2 242.2 L1316.9 241.5 L1319.6 240.9 L1322.3 240.2 L1325.0 239.5 L1327.8 238.7 L1330.6 237.9 L1333.4 237.1 L1336.2 236.2 L1338.9 235.3 L1341.7 234.5 L1344.5 233.7 L1347.3 233.0 L1350.1 232.3 L1352.9 231.7 L1355.6 231.1 L1358.4 230.6 L1361.2 230.1 L1363.9 229.6 L1366.7 229.1 L1369.5 228.6 L1372.3 228.2 L1375.0 227.7 L1377.8 227.2 L1380.8 226.7 L1383.7 226.1 L1386.7 225.6 L1389.6 225.0 L1392.6 224.5 L1395.5 224.0 L1398.5 223.5 L1401.4 223.0 L1404.4 222.6 L1407.3 222.2 L1410.3 221.8 L1413.2 221.5 L1416.0 221.2 L1418.9 220.9 L1421.8 220.7 L1424.6 220.4 L1427.5 220.2 L1430.3 220.0 L1433.2 219.8 L1436.1 219.6 L1438.9 219.4 L1441.8 219.2 L1444.5 219.0 L1447.1 218.8 L1449.8 218.6 L1452.4 218.5 L1455.1 218.3 L1457.7 218.2 L1460.4 218.2 L1463.3 218.2 L1466.1 218.2 L1469.0 218.2 L1471.9 218.2 L1474.8 218.2 L1477.6 218.2 L1480.5 218.2 L1483.4 218.2 L1486.2 218.2 L1489.1 218.2 L1492.0 218.2 L1494.9 218.2 L1497.7 218.2 L1500.6 218.2 L1503.5 218.3 L1506.3 218.4 L1509.2 218.7 L1512.0 219.0 L1514.9 219.3 L1517.7 219.6 L1520.6 219.8 L1523.6 220.0 L1526.5 220.1 L1529.5 220.3 L1532.4 220.4 L1535.4 220.5 L1538.3 220.7 L1541.3 220.8 L1544.2 220.9 L1547.2 221.0 L1550.1 221.1 L1553.1 221.2 L1556.0 221.4 L1559.0 221.5 L1561.9 221.7 L1564.9 221.8 L1567.8 222.0 L1570.8 222.2 L1573.5 222.4 L1576.3 222.7 L1579.0 223.0 L1581.7 223.4 L1584.5 223.8 L1587.2 224.2 L1590.0 224.5 L1592.7 224.9 L1595.4 225.3 L1598.2 225.6 L1600.9 225.8 L1603.7 226.0 L1606.6 226.2 L1609.4 226.4 L1612.3 226.6 L1615.1 226.7 L1618.0 226.9 L1620.8 227.0 L1623.6 227.2 L1626.5 227.3 L1629.3 227.5 L1632.2 227.6 L1635.0 227.8 L1638.0 228.0 L1641.0 228.2 L1644.0 228.4 L1647.0 228.6 L1650.0 228.8 L1653.0 229.0 L1656.0 229.2 L1659.0 229.4 L1662.0 229.6 L1665.0 229.8 L1667.8 230.0 L1670.7 230.1 L1673.5 230.3 L1676.4 230.4 L1679.2 230.6 L1682.1 230.7 L1685.0 230.9 L1687.8 231.0 L1690.7 231.2 L1693.5 231.3 L1696.4 231.5 L1699.2 231.6 L1713.2 233.0 L1732.2 241.6 L1747.3 286.7 L1763.3 375.3"/>
<use href="#bp" x="-1.2"/>
<use href="#bp" x="-0.6"/>
<use href="#bp" x="0.6"/>
<use href="#bp" x="1.2"/>
</g>
<rect x="507" y="90.2" width="70.5" height="11.6" fill="#000"/>
<rect x="1373.2" y="90.3" width="70" height="11.3" fill="#dc0000"/>
<text x="648.0" y="29.7" font-size="31.00" textLength="601.0" lengthAdjust="spacingAndGlyphs" font-weight="bold" fill="#111" id="title" xml:space="preserve">STP Corrected Wheel Power vs. RPM</text>
<text x="825.0" y="57.4" font-size="22.50" textLength="297.0" lengthAdjust="spacingAndGlyphs" font-style="italic" fill="#111" id="sub" xml:space="preserve">Baseline, FFX CB SOS 718151</text>
<text x="505.0" y="124.8" font-size="18.50" textLength="72.0" lengthAdjust="spacingAndGlyphs" fill="#111" id="lg1" xml:space="preserve">Baseline</text>
<text x="1318.0" y="124.4" font-size="18.50" textLength="167.0" lengthAdjust="spacingAndGlyphs" fill="#111" id="lg2" xml:space="preserve">FFX CB SOS 718151</text>
<text x="45.2" y="169.6" font-size="24.00" textLength="42.5" lengthAdjust="spacingAndGlyphs" fill="#111" id="y230" xml:space="preserve">230</text>
<text x="45.2" y="260.4" font-size="24.00" textLength="42.5" lengthAdjust="spacingAndGlyphs" fill="#111" id="y220" xml:space="preserve">220</text>
<text x="45.2" y="351.2" font-size="24.00" textLength="42.5" lengthAdjust="spacingAndGlyphs" fill="#111" id="y210" xml:space="preserve">210</text>
<text x="45.2" y="442.0" font-size="24.00" textLength="42.5" lengthAdjust="spacingAndGlyphs" fill="#111" id="y200" xml:space="preserve">200</text>
<text x="45.2" y="532.7" font-size="24.00" textLength="42.5" lengthAdjust="spacingAndGlyphs" fill="#111" id="y190" xml:space="preserve">190</text>
<text x="45.2" y="623.5" font-size="24.00" textLength="42.5" lengthAdjust="spacingAndGlyphs" fill="#111" id="y180" xml:space="preserve">180</text>
<text x="45.2" y="714.3" font-size="24.00" textLength="42.5" lengthAdjust="spacingAndGlyphs" fill="#111" id="y170" xml:space="preserve">170</text>
<text x="45.2" y="805.1" font-size="24.00" textLength="42.5" lengthAdjust="spacingAndGlyphs" fill="#111" id="y160" xml:space="preserve">160</text>
<text x="385.7" y="918.5" font-size="24.00" textLength="55.4" lengthAdjust="spacingAndGlyphs" fill="#111" id="x4500" xml:space="preserve">4500</text>
<text x="707.1" y="918.5" font-size="24.00" textLength="55.4" lengthAdjust="spacingAndGlyphs" fill="#111" id="x5000" xml:space="preserve">5000</text>
<text x="1028.5" y="918.5" font-size="24.00" textLength="55.4" lengthAdjust="spacingAndGlyphs" fill="#111" id="x5500" xml:space="preserve">5500</text>
<text x="1349.9" y="918.5" font-size="24.00" textLength="55.4" lengthAdjust="spacingAndGlyphs" fill="#111" id="x6000" xml:space="preserve">6000</text>
<text x="1671.3" y="918.5" font-size="24.00" textLength="55.4" lengthAdjust="spacingAndGlyphs" fill="#111" id="x6500" xml:space="preserve">6500</text>
<text x="886.0" y="944.7" font-size="22.50" textLength="158.0" lengthAdjust="spacingAndGlyphs" fill="#111" id="xl" xml:space="preserve">EngSpd  RPM</text>
<text x="811.0" y="981.1" font-size="21.00" textLength="274.5" lengthAdjust="spacingAndGlyphs" font-style="italic" fill="#111" id="sf" xml:space="preserve">SuperFlow WinDyn™ V2.7</text>
<text x="21.0" y="982.0" font-size="22.50" textLength="92.0" lengthAdjust="spacingAndGlyphs" font-style="italic" fill="#111" id="date" xml:space="preserve">04/21/23</text>
<text x="1787.0" y="982.0" font-size="22.50" textLength="91.0" lengthAdjust="spacingAndGlyphs" font-style="italic" fill="#111" id="time" xml:space="preserve">05:46:33</text>
<text x="1359.0" y="280.4" font-size="25.00" textLength="221.0" lengthAdjust="spacingAndGlyphs" fill="#e21b24" id="a1" xml:space="preserve">+6HP @ 4900 RPM</text>
<text x="1440.0" y="425.8" font-size="25.00" textLength="275.0" lengthAdjust="spacingAndGlyphs" fill="#e21b24" id="a2" xml:space="preserve">+5 FT/LBS @ 6450 RPM</text>
<text x="1270.5" y="766.9" font-size="25.50" textLength="340.0" lengthAdjust="spacingAndGlyphs" fill="#111" id="c1" xml:space="preserve">2022 NISSAN FRONTIER 3.8L</text>
<text x="1270.5" y="801.5" font-size="25.50" textLength="353.0" lengthAdjust="spacingAndGlyphs" fill="#111" id="c2" xml:space="preserve">CAT-BACK EXHAUST #718151</text>
<text x="4.4" y="12.0" font-size="9.80" textLength="47.6" lengthAdjust="spacingAndGlyphs" fill="#333" id="tl" xml:space="preserve">4695, 219</text>
<g id="fmlogo">
<rect x="1296.5" y="628.5" width="330.8" height="98.0" fill="#231f20"/>
<rect x="1296.5" y="628.5" width="330.8" height="30.8" fill="#d81f2a"/>
<rect x="1296.5" y="659.3" width="330.8" height="1.8" fill="#7a1019"/>
<rect x="1296.5" y="661.1" width="330.8" height="8.9" fill="#d61d2b"/>
<rect x="1296.5" y="670" width="330.8" height="1.7" fill="#74101a"/>
<rect x="1296.5" y="671.7" width="330.8" height="7.7" fill="#c81b29"/>
<rect x="1296.5" y="679.4" width="330.8" height="1.6" fill="#6a0f18"/>
<rect x="1296.5" y="681" width="330.8" height="2.9" fill="#a91724"/>
<polygon points="1316.2,713.3 1332.9,642.0 1358.4,642.0 1355.2,655.6 1345.3,655.6 1341.3,672.6 1347.7,672.6 1344.7,685.6 1338.3,685.6 1331.8,713.3" fill="#0b0b0b"/>
<text x="1354.4" y="690.9" font-size="65" font-weight="bold" font-style="italic" textLength="253" lengthAdjust="spacingAndGlyphs" fill="#0b0b0b" stroke="#0b0b0b" stroke-width="2.8" stroke-linejoin="miter">LOWMASTER</text>
<polygon points="1314.0,711.7 1330.7,640.4 1356.2,640.4 1353.0,654.0 1343.1,654.0 1339.1,671.0 1345.5,671.0 1342.5,684.0 1336.1,684.0 1329.6,711.7" fill="#ffffff"/>
<text x="1352.2" y="689.3" font-size="65" font-weight="bold" font-style="italic" textLength="253" lengthAdjust="spacingAndGlyphs" fill="#ffffff" stroke="#ffffff" stroke-width="2.8" stroke-linejoin="miter">LOWMASTER</text>
<circle cx="1337.4" cy="690.3" r="2.4" fill="#8c8c8c"/>
<text x="1336.3" y="711.6" font-size="11.6" font-style="italic" textLength="264" lengthAdjust="spacingAndGlyphs" fill="#e2e2e2">THE PERFORMANCE TECHNOLOGY COMPANY</text>
<text x="1606" y="644.4" font-size="4.6" font-style="italic" textLength="13.5" lengthAdjust="spacingAndGlyphs" fill="#f2c8cb">INC.</text>
</g>
<defs>
<linearGradient id="sil" x1="0" y1="0" x2="0" y2="1"><stop offset="0" stop-color="#d9d9d9"/><stop offset="0.35" stop-color="#ececec"/><stop offset="0.8" stop-color="#ffffff"/><stop offset="1" stop-color="#ffffff"/></linearGradient>
<linearGradient id="chrome" x1="0" y1="0" x2="0" y2="1"><stop offset="0" stop-color="#ffffff"/><stop offset="0.55" stop-color="#f0f0f0"/><stop offset="1" stop-color="#b9b9b9"/></linearGradient>
<path id="arc1" d="M1124.47 680.00 A49.60 49.60 0 0 1 1220.73 680.00"/>
</defs>
<g id="badge">
<circle cx="1172.6" cy="692.0" r="62.6" fill="#c9c9c9"/>
<circle cx="1172.6" cy="692.0" r="60.3" fill="#0c0c0c"/>
<circle cx="1172.6" cy="692.0" r="47.6" fill="#9b1d2f"/>
<circle cx="1172.6" cy="692.0" r="46.2" fill="#f3c9cf"/>
<circle cx="1172.6" cy="692.0" r="45.2" fill="url(#sil)"/>
<text font-size="12.2" font-weight="bold" fill="#f4f4f4" stroke="#f4f4f4" stroke-width="0.8" textLength="130.6" lengthAdjust="spacing"><textPath href="#arc1" textLength="130.6" lengthAdjust="spacing">STAINLESS STEEL</textPath></text>
<text x="1153.0" y="666.3" font-size="15.6" font-weight="bold" font-style="italic" textLength="44.5" lengthAdjust="spacingAndGlyphs" fill="#111" stroke="#111" stroke-width="1.0">LOWMASTER</text>
<polygon points="1145.6,671.8 1149.4,654.8 1156.4,654.8 1155.7,658 1152.6,658 1151.8,661.6 1154.2,661.6 1153.5,664.8 1151.1,664.8 1149.5,671.8" fill="#111"/>
<text x="1140.6" y="678.6" font-size="8.9" font-weight="bold" textLength="65.5" lengthAdjust="spacing" fill="#15151a" stroke="#15151a" stroke-width="0.5">LIMITED</text>
<rect x="1097.2" y="680" width="149.4" height="51.4" fill="#c6c6c6"/>
<rect x="1100.2" y="682.8" width="143.4" height="45.8" fill="#0b0b0b"/>
<text x="1102.9" y="705.4" font-size="27.8" font-weight="bold" textLength="140.6" lengthAdjust="spacingAndGlyphs" fill="url(#chrome)" stroke="#e6e6e6" stroke-width="2.2" stroke-linejoin="miter">LIFETIME</text>
<text x="1106.4" y="726.5" font-size="21.6" font-weight="bold" textLength="135" lengthAdjust="spacingAndGlyphs" fill="url(#chrome)" stroke="#dedede" stroke-width="2.0" stroke-linejoin="miter">WARRANTY</text>
</g>
</svg></body></html>
